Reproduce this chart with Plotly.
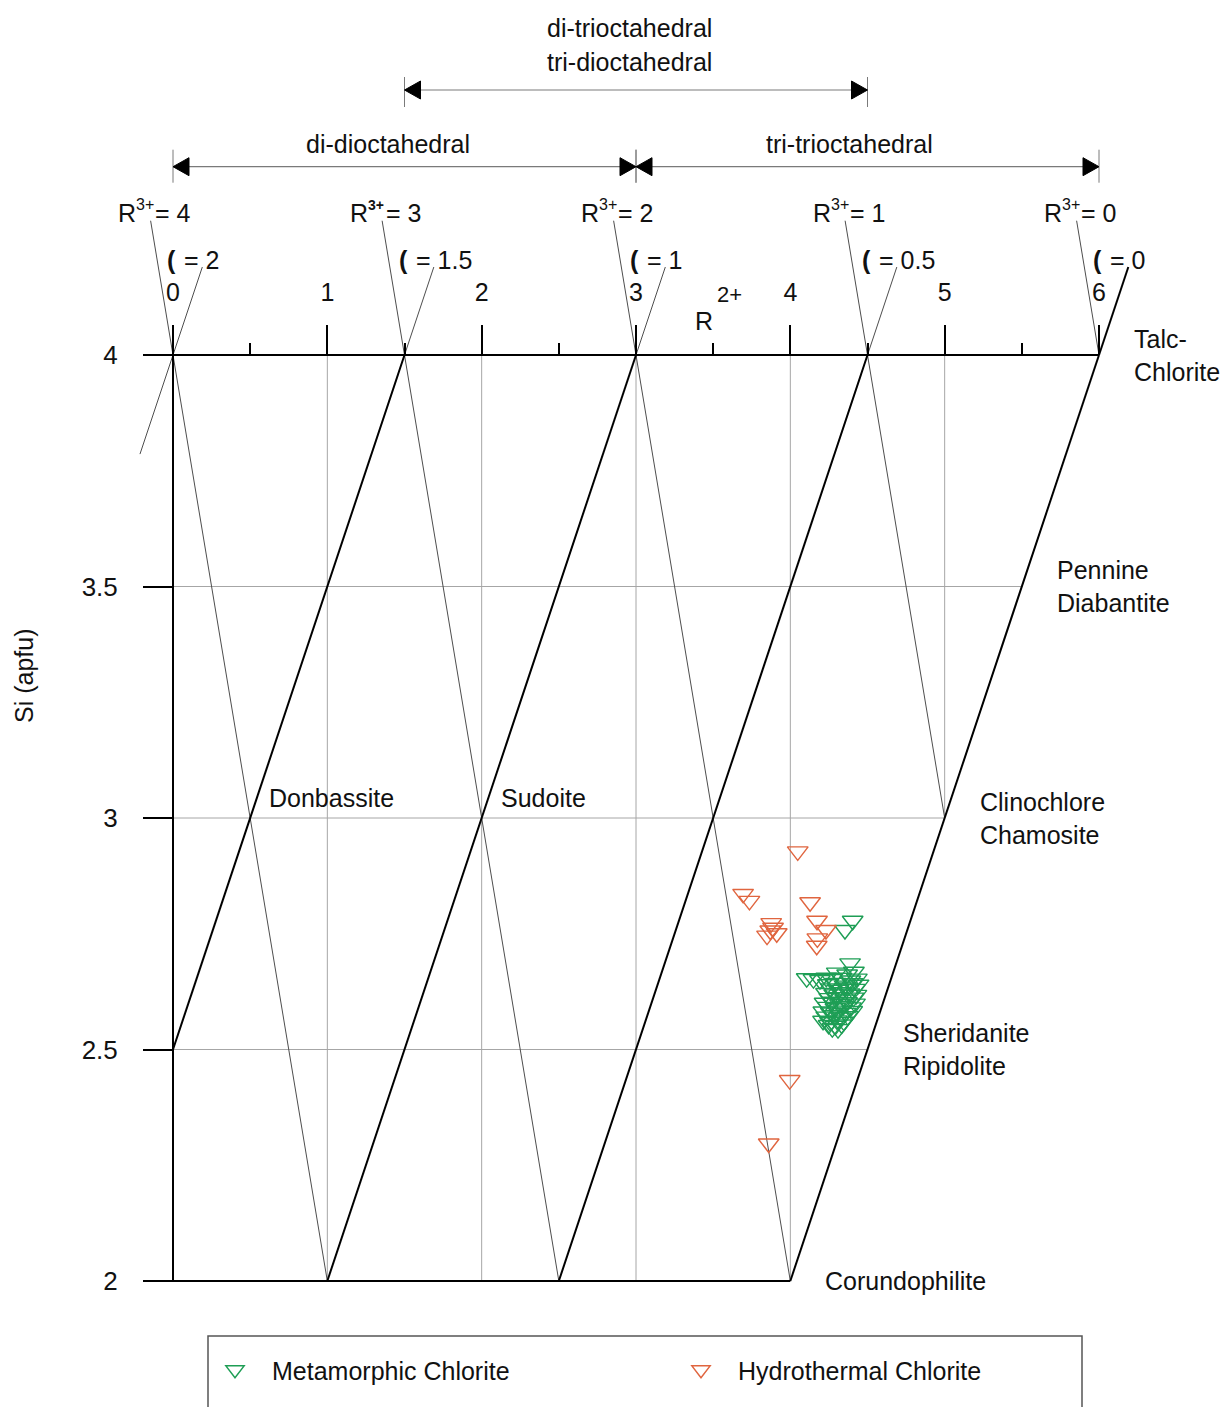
import plotly.graph_objects as go

# ---------------------------------------------------------------
# Chlorite compositions: octahedral R2+ (apfu) vs Si (apfu)
# ---------------------------------------------------------------
meta_r2 = [
    4.404, 4.354, 4.387,
    4.106, 4.150, 4.192, 4.233,
    4.301, 4.368, 4.412,
    4.268, 4.331, 4.389, 4.431,
    4.243, 4.294, 4.352, 4.403, 4.442,
    4.262, 4.313, 4.371, 4.418,
    4.231, 4.284, 4.334, 4.383, 4.428,
    4.252, 4.303, 4.356, 4.409,
    4.222, 4.273, 4.321, 4.368, 4.419,
    4.244, 4.292, 4.343, 4.392,
    4.214, 4.262, 4.314, 4.358, 4.401,
    4.233, 4.281, 4.329, 4.372,
    4.212, 4.258, 4.302, 4.347,
    4.248, 4.291, 4.333,
    4.272, 4.309,
]
meta_si = [
    2.778, 2.758, 2.686,
    2.654, 2.652, 2.650, 2.655,
    2.666, 2.662, 2.668,
    2.652, 2.655, 2.649, 2.653,
    2.641, 2.644, 2.638, 2.643, 2.640,
    2.632, 2.629, 2.634, 2.631,
    2.622, 2.619, 2.624, 2.621, 2.618,
    2.611, 2.613, 2.608, 2.612,
    2.601, 2.603, 2.598, 2.602, 2.599,
    2.592, 2.589, 2.594, 2.591,
    2.582, 2.580, 2.584, 2.579, 2.583,
    2.571, 2.574, 2.569, 2.572,
    2.562, 2.559, 2.563, 2.560,
    2.553, 2.551, 2.554,
    2.546, 2.544,
]
hydro_r2 = [4.048, 3.694, 3.735, 3.876, 3.888, 3.849, 3.912, 3.870,
            4.128, 4.173, 4.231, 4.175, 4.171, 3.996, 3.860]
hydro_si = [2.928, 2.836, 2.821, 2.773, 2.763, 2.746, 2.751, 2.757,
            2.818, 2.778, 2.758, 2.740, 2.724, 2.434, 2.297]

# ---------------------------------------------------------------
# Diagram framework
# ---------------------------------------------------------------
r3_levels = [4, 3, 2, 1, 0]            # R3+ isolines
vacancy_levels = [2, 1.5, 1, 0.5, 0]   # octahedral vacancy isolines
r2_ticks = [0, 1, 2, 3, 4, 5, 6]
r2_minor_ticks = [0.5, 1.5, 2.5, 3.5, 4.5, 5.5]
si_ticks = [2, 2.5, 3, 3.5, 4]
si_tick_text = ["2", "2.5", "3", "3.5", "4"]
si_grid = [3.5, 3, 2.5]
end_members = {
    4.0: "Talc-<br>Chlorite",
    3.5: "Pennine<br>Diabantite",
    3.0: "Clinochlore<br>Chamosite",
    2.5: "Sheridanite<br>Ripidolite",
    2.0: "Corundophilite",
}
inner_names = {0.5: "Donbassite", 2.0: "Sudoite"}

FONT = "Liberation Sans, Arial, sans-serif"
TXT = "#111111"
GREEN = "#1E9E55"
ORANGE = "#E0653F"

W, H = 1220, 1407
# pixel geometry of the drawing
X0_PX, X_UNIT = 173.0, 926.0 / 6.0     # R2+ = 0 position, px per R2+ unit
Y4_PX, Y_UNIT = 355.0, 463.0           # Si = 4 position, px per Si unit
x_range = [(0 - X0_PX) / X_UNIT, (W - X0_PX) / X_UNIT]
y_range = [4 - (H - Y4_PX) / Y_UNIT, 4 + Y4_PX / Y_UNIT]


def dx(px):
    return px / X_UNIT


def dy(px):
    return px / Y_UNIT


def r3_origin(r3):
    return 6 - 1.5 * r3


def vac_origin(v):
    return 6 - 3 * v


shapes = []


def seg(x0, y0, x1, y1, color="black", width=2.0, layer="below"):
    shapes.append(dict(type="line", xref="x", yref="y", x0=x0, y0=y0,
                       x1=x1, y1=y1, layer=layer,
                       line=dict(color=color, width=width)))


GRID = "#a6a6a6"
# grid lines inside the field
for s in si_grid:
    seg(0, s, s + 2, s, GRID, 1.0)
for t in r2_ticks[1:6]:
    seg(t, 4, t, max(2, t - 2), GRID, 1.0)

# R3+ isolines (thin)
for r3 in r3_levels:
    xo = r3_origin(r3)
    s_low = max(2.0, xo / 1.5)
    top = 4.29
    seg(xo - 0.5 * (top - 4), top, xo + 0.5 * (4 - s_low), s_low, "#4d4d4d", 1.0)

# vacancy isolines (bold inside the field, thin leaders above it)
for v in vacancy_levels:
    xo = vac_origin(v)
    top = 4.19
    if v == 0:
        seg(xo, 4, xo + (top - 4), top, "black", 2.0)
    else:
        seg(xo, 4, xo + (top - 4), top, "#4d4d4d", 1.0)
    if v == 2:
        seg(xo, 4, xo - 0.214, 3.786, "#4d4d4d", 1.0)
    else:
        s_low = max(2.0, 4 - xo)
        seg(xo, 4, xo - (4 - s_low), s_low, "black", 2.0)

# frame
seg(-dx(30), 4, 6, 4, "black", 2.0)
seg(0, 2, 0, 4, "black", 2.0)
seg(-dx(30), 2, 4, 2, "black", 2.0)

# octahedral-type range arrows
ARROW_GRAY = "#7a7a7a"
HEAD_L, HEAD_H = dx(16), dy(9)


def head(xt, yt, direction):
    xb = xt - direction * HEAD_L
    shapes.append(dict(type="path", xref="x", yref="y", layer="above",
                       path=f"M{xt},{yt} L{xb},{yt + HEAD_H} L{xb},{yt - HEAD_H} Z",
                       fillcolor="black", line=dict(color="black", width=1)))


def range_arrow(xa, xb, yv, tick_up, tick_down):
    seg(xa, yv, xb, yv, ARROW_GRAY, 1.2)
    for xv in (xa, xb):
        seg(xv, yv - tick_down, xv, yv + tick_up, ARROW_GRAY, 1.0)
    head(xa, yv, -1)
    head(xb, yv, 1)


SI_LOW_ARROW = 4 + dy(355 - 166.7)
SI_HIGH_ARROW = 4 + dy(355 - 90)
range_arrow(0, 3, SI_LOW_ARROW, dy(17), dy(16))
range_arrow(3, 6, SI_LOW_ARROW, dy(17), dy(16))
range_arrow(1.5, 4.5, SI_HIGH_ARROW, dy(13), dy(17))

# legend frame
shapes.append(dict(type="rect", xref="paper", yref="paper",
                   x0=208 / W, x1=1082 / W, y0=-0.03, y1=1 - 1336 / H,
                   line=dict(color="#555555", width=1.5), layer="below"))

# ---------------------------------------------------------------
# Text
# ---------------------------------------------------------------
annotations = []


def label(x, y, text, xanchor="center", xshift=0, yshift=0, size=25, angle=0,
          xref="x", yref="y", weight="normal", align="center"):
    annotations.append(dict(x=x, y=y, xref=xref, yref=yref, text=text,
                            showarrow=False, xanchor=xanchor, yanchor="middle",
                            xshift=xshift, yshift=yshift, textangle=angle,
                            align=align, borderpad=0,
                            font=dict(family=FONT, size=size, color=TXT,
                                      weight=weight)))


# R3+ isoline labels:  R, raised "3+", then "= n"
for r3 in r3_levels:
    xo = r3_origin(r3)
    label(xo, 4, "R", xanchor="left", xshift=-56, yshift=142)
    if r3 == 3:
        label(xo, 4, "3+", xanchor="left", xshift=-38, yshift=150, size=14,
              weight="bold")
        label(xo, 4, f"= {r3}", xanchor="left", xshift=-20, yshift=142)
    else:
        label(xo, 4, "3+", xanchor="left", xshift=-38, yshift=151, size=16)
        label(xo, 4, f"= {r3}", xanchor="left", xshift=-19, yshift=142)

# vacancy isoline labels
for v in vacancy_levels:
    xo = vac_origin(v)
    label(xo, 4, "(", xanchor="left", xshift=-7, yshift=95, weight="bold")
    label(xo, 4, f"= {v:g}", xanchor="left", xshift=10, yshift=95)

for s, name in end_members.items():
    label(s + 2, s, name, xanchor="left", xshift=34, align="left")
for xv, name in inner_names.items():
    label(xv, 3, name, xanchor="left", xshift=18, yshift=20)

label(1.5 + 1.5, SI_HIGH_ARROW, "di-trioctahedral", xshift=-7, yshift=62)
label(1.5 + 1.5, SI_HIGH_ARROW, "tri-dioctahedral", xshift=-7, yshift=28)
label(1.5, SI_LOW_ARROW, "di-dioctahedral", xshift=-17, yshift=23)
label(4.5, SI_LOW_ARROW, "tri-trioctahedral", xshift=-18, yshift=23)

label(3.5, 4, "R", xanchor="left", xshift=-19, yshift=34)
label(3.5, 4, "2+", xanchor="left", xshift=3, yshift=61, size=22)
label(24 / W, 1 - 676 / H, "Si (apfu)", angle=-90, xref="paper", yref="paper")

# ---------------------------------------------------------------
# Figure
# ---------------------------------------------------------------
fig = go.Figure()
fig.add_trace(go.Scatter(
    x=meta_r2, y=meta_si, mode="markers", name="Metamorphic Chlorite",
    marker=dict(symbol="triangle-down-open", size=18, color=GREEN,
                line=dict(width=1.4, color=GREEN))))
fig.add_trace(go.Scatter(
    x=hydro_r2, y=hydro_si, mode="markers", name="Hydrothermal Chlorite",
    marker=dict(symbol="triangle-down-open", size=18, color=ORANGE,
                line=dict(width=1.4, color=ORANGE))))

fig.update_layout(
    width=W, height=H, autosize=False,
    margin=dict(l=0, r=0, t=0, b=0),
    paper_bgcolor="white", plot_bgcolor="white",
    font=dict(family=FONT, size=25, color=TXT),
    shapes=shapes, annotations=annotations,
    showlegend=True,
    legend=dict(orientation="h", x=198 / W, xanchor="left",
                y=1 - 1370 / H, yanchor="middle",
                entrywidth=387, entrywidthmode="pixels", itemwidth=64,
                bgcolor="rgba(0,0,0,0)", borderwidth=0,
                font=dict(family=FONT, size=25, color=TXT)),
    xaxis=dict(range=x_range, domain=[0, 1], anchor="free",
               position=(4 - y_range[0]) / (y_range[1] - y_range[0]),
               side="top", tickvals=r2_ticks, ticktext=[str(t) for t in r2_ticks],
               ticks="outside", ticklen=30, tickwidth=2, tickcolor="black",
               ticklabelstandoff=14,
               minor=dict(tickvals=r2_minor_ticks, ticks="outside", ticklen=12,
                          tickwidth=1.5, tickcolor="black", showgrid=False),
               showline=False, showgrid=False, zeroline=False,
               tickfont=dict(family=FONT, size=25, color=TXT)),
    yaxis=dict(range=y_range, domain=[0, 1], anchor="free",
               position=X0_PX / W, side="left",
               tickvals=si_ticks, ticktext=si_tick_text,
               ticks="outside", ticklen=30, tickwidth=2, tickcolor="black",
               ticklabelstandoff=20,
               showline=False, showgrid=False, zeroline=False,
               tickfont=dict(family=FONT, size=26, color=TXT)),
)

fig.write_html("out.html")
